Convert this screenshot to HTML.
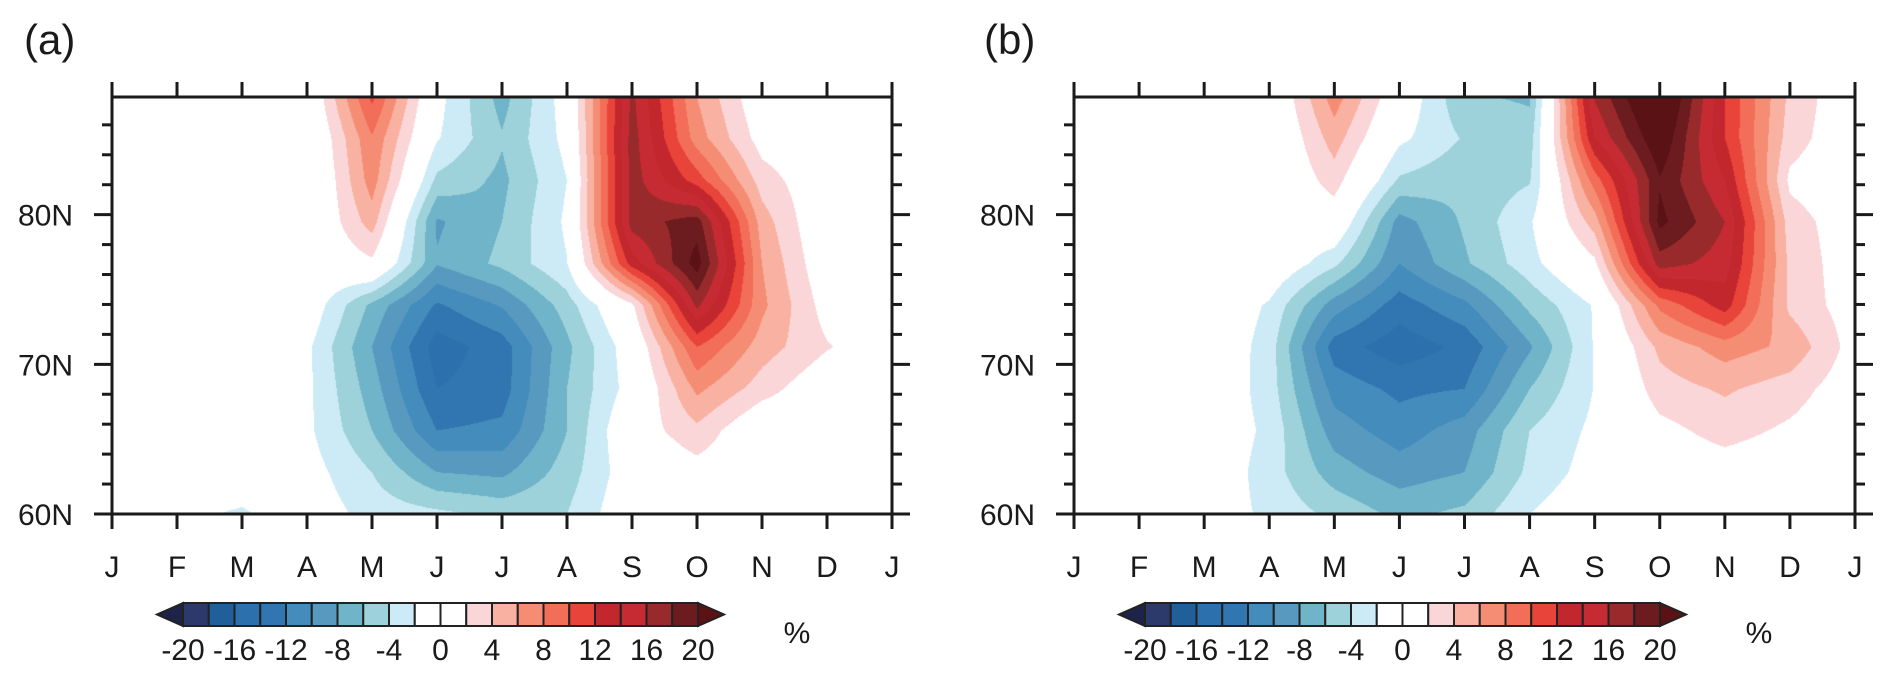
<!DOCTYPE html>
<html>
<head>
<meta charset="utf-8">
<style>
  html,body{margin:0;padding:0;background:#fff;}
  #wrap{position:relative;width:1892px;height:680px;overflow:hidden;background:#fff;}
  canvas{position:absolute;}
  svg{position:absolute;left:0;top:0;}
  text{font-family:"Liberation Sans",Arial,sans-serif;fill:#1a1a1a;}
</style>
</head>
<body>
<div id="wrap">
  <canvas id="cvA"></canvas>
  <canvas id="cvB"></canvas>
  <svg id="ov" width="1892" height="680"></svg>
</div>
<script>
// ---------- data ----------
const monthLabels = ['J','F','M','A','M','J','J','A','S','O','N','D','J'];
const lats = [60, 62.79, 65.58, 68.37, 71.16, 73.95, 76.74, 79.53, 82.31, 85.10, 87.86];
const latTickValues = [60, 70, 80];
const latTickLabels = ['60N', '70N', '80N'];
const levels = [-20,-18,-16,-14,-12,-10,-8,-6,-4,-2,0,2,4,6,8,10,12,14,16,18,20];
const levelLabels = ['-20','-16','-12','-8','-4','0','4','8','12','16','20'];
const bandColors = ['#1e2349','#2b3a6b','#215f9a','#2c70ad','#3176b0','#448cbb','#5899c0','#6fb4c8','#9dd2db','#cdebf6',
  '#ffffff','#ffffff','#fbd6d8','#f9b1a2','#f58d74','#f26e59','#e8443a','#c3272e','#c62a32','#992a2c','#6c1c1f','#5a1214'];
// rows: one per latitude (60 -> 87.86), columns: month ticks J..J
const gridA = [
  [0,-1.5,-2.3,-0.5,-2.8,-3.5,-4.5,-4,0,0,0,0,0],
  [0,0,-0.5,-1,-4,-8,-8.5,-5,-0.5,1,0,0,0],
  [0,0,0,-1.5,-6,-12,-11.5,-6,0.5,3.5,-0.5,0,0],
  [0,0,0,-1.5,-7,-14,-13,-6,-1,6.5,3,0,0],
  [0,0,0,-1.5,-8,-15,-13,-6.5,-0.5,10,5,2.2,0],
  [0,0,0,-0.2,-6.5,-12.3,-9.8,-5,1.5,16.5,6.5,1,0],
  [0,0,0,-0.5,1.5,-7.8,-5.5,-2.1,13,21,6,0,0],
  [0,0,0,-1.2,5,-8.3,-6,-1.6,17,19,5,-0.5,0],
  [0,0,0,-1.9,7,-4.5,-6.5,-2,17,11,3,0,0],
  [0,0,0,-1.5,7.8,-1.8,-5.8,-1.3,17,7,1,0,0],
  [0,0,0,-0.8,10.5,-1.2,-6.8,-0.8,16.5,6,0,0,0]
];
const gridB = [
  [0,0,-0.5,-2.5,-4.5,-6.5,-5.5,-2,0,0,0,0,0],
  [0,0,0,-3,-7,-9,-8,-3.5,-1,0.5,0.8,0.3,0],
  [0,0,0,-2.5,-9,-11,-9,-4,-1.5,1.3,2.8,1.6,0],
  [0,0,0.3,-3,-10.8,-12.5,-12,-6,-1.9,3.1,4.3,3.0,0.5],
  [0,0,0.5,-3,-13,-15.2,-13.5,-8.3,-1.8,4.5,7,5.5,1],
  [0,0,0.5,-2.3,-9,-13,-10.5,-5.5,-1.8,8.5,13,3.5,0.8],
  [0,0,0,0.3,-3.5,-10,-6.3,-2.8,1.5,17,15,3.5,0.5],
  [0,0,0,0,0.5,-8.8,-5.7,-2.3,5,20.6,16,3,0.5],
  [0,0,0,-1,3,-4.3,-5.5,-4.2,9,19.8,14,1.5,0],
  [0,0,0,-1.2,5,-1.5,-4.2,-5,14,22,12,3,0],
  [0,0,0,-0.9,7,0,-5.7,-6.3,16.2,24,12,3.5,0]
];

// ---------- layout ----------
const panels = [
  {id:'a', cv:'cvA', grid:gridA, x0:112, x1:892, y0:97, y1:514, label:'(a)', lx:24, cbx:183},
  {id:'b', cv:'cvB', grid:gridB, x0:1074, x1:1855, y0:97, y1:514, label:'(b)', lx:984, cbx:1145}
];
const LAT_MIN = 60, LAT_MAX = 87.86;
const NS = 'http://www.w3.org/2000/svg';
const ov = document.getElementById('ov');

function hexToRgb(h){return [parseInt(h.substr(1,2),16),parseInt(h.substr(3,2),16),parseInt(h.substr(5,2),16)];}
const bandRgb = bandColors.map(hexToRgb);
function bandIndex(v){
  if (v < levels[0]) return 0;
  for (let i = 1; i < levels.length; i++) if (v < levels[i]) return i;
  return levels.length;
}
function sample(grid, m, lat){
  let j = 0;
  while (j < lats.length - 2 && lat > lats[j+1]) j++;
  const ty = Math.max(0, Math.min(1, (lat - lats[j]) / (lats[j+1] - lats[j])));
  let i = Math.min(11, Math.max(0, Math.floor(m)));
  const tx = Math.max(0, Math.min(1, m - i));
  const a = grid[j][i], b = grid[j][i+1], c = grid[j+1][i], d = grid[j+1][i+1];
  return a*(1-tx)*(1-ty) + b*tx*(1-ty) + c*(1-tx)*ty + d*tx*ty;
}
function mk(tag, attrs, parent){
  const e = document.createElementNS(NS, tag);
  for (const k in attrs) e.setAttribute(k, attrs[k]);
  (parent || ov).appendChild(e);
  return e;
}

panels.forEach(p => {
  const xS = m => p.x0 + m * (p.x1 - p.x0) / 12;
  const yS = lat => p.y1 - (lat - LAT_MIN) * (p.y1 - p.y0) / (LAT_MAX - LAT_MIN);
  // contour fill via canvas
  const cv = document.getElementById(p.cv);
  const w = p.x1 - p.x0, h = p.y1 - p.y0;
  cv.width = w; cv.height = h;
  cv.style.left = p.x0 + 'px'; cv.style.top = p.y0 + 'px';
  const ctx = cv.getContext('2d');
  const img = ctx.createImageData(w, h);
  for (let py = 0; py < h; py++) {
    const lat = LAT_MAX - (py + 0.5) / h * (LAT_MAX - LAT_MIN);
    for (let px = 0; px < w; px++) {
      const m = (px + 0.5) / w * 12;
      const rgb = bandRgb[bandIndex(sample(p.grid, m, lat))];
      const o = (py * w + px) * 4;
      img.data[o] = rgb[0]; img.data[o+1] = rgb[1]; img.data[o+2] = rgb[2]; img.data[o+3] = 255;
    }
  }
  ctx.putImageData(img, 0, 0);

  const g = mk('g', {});
  
  
  // frame
  const fr = mk('rect', {x:p.x0, y:p.y0, width:p.x1-p.x0, height:p.y1-p.y0, fill:'none', stroke:'#1a1a1a', 'stroke-width':3}, g);
  
  
  // month ticks & labels
  monthLabels.forEach((lab, k) => {
    const x = xS(k);
    const t1 = mk('line', {x1:x, x2:x, y1:p.y0, y2:p.y0-15, stroke:'#1a1a1a', 'stroke-width':3}, g);
    
    
    const t2 = mk('line', {x1:x, x2:x, y1:p.y1, y2:p.y1+15, stroke:'#1a1a1a', 'stroke-width':3}, g);
    
    
    const tx = mk('text', {x:x, y:577, 'text-anchor':'middle', 'font-size':30}, g);
    tx.textContent = lab;
    
    
  });
  // latitude ticks
  for (let lat = 60; lat <= 86; lat += 2) {
    const y = yS(lat);
    const major = latTickValues.indexOf(lat) >= 0;
    const len = major ? 18 : 10;
    const l1 = mk('line', {x1:p.x0, x2:p.x0-len, y1:y, y2:y, stroke:'#1a1a1a', 'stroke-width':3}, g);
    
    
    const l2 = mk('line', {x1:p.x1, x2:p.x1+len, y1:y, y2:y, stroke:'#1a1a1a', 'stroke-width':3}, g);
    
    
  }
  latTickValues.forEach((lat, k) => {
    const t = mk('text', {x:p.x0-39, y:yS(lat)+11, 'text-anchor':'end', 'font-size':30}, g);
    t.textContent = latTickLabels[k];
    
    
  });
  // panel label
  const pl = mk('text', {x:p.lx, y:54, 'font-size':42}, g);
  pl.textContent = p.label;
  
  

  // colorbar
  const cb = mk('g', {}, g);
  
  
  const bw = 25.75, by0 = 603, by1 = 626, bmid = (by0 + by1) / 2;
  const nBox = levels.length - 1;
  const xEnd = p.cbx + nBox * bw;
  const lt = mk('polygon', {points:`${p.cbx},${by0} ${p.cbx-26},${bmid} ${p.cbx},${by1}`, fill:bandColors[0], stroke:'#222', 'stroke-width':2}, cb);
  
  
  const rt = mk('polygon', {points:`${xEnd},${by0} ${xEnd+26},${bmid} ${xEnd},${by1}`, fill:bandColors[bandColors.length-1], stroke:'#222', 'stroke-width':2}, cb);
  
  
  for (let i = 0; i < nBox; i++) {
    const r = mk('rect', {x:p.cbx + i*bw, y:by0, width:bw, height:by1-by0, fill:bandColors[i+1], stroke:'#222', 'stroke-width':2}, cb);
    
    
  }
  levelLabels.forEach((lab) => {
    const idx = levels.indexOf(parseFloat(lab));
    const t = mk('text', {x:p.cbx + idx*bw, y:660, 'text-anchor':'middle', 'font-size':30}, cb);
    t.textContent = lab;
    
    
  });
  const pc = mk('text', {x:p.cbx + 614, y:643, 'text-anchor':'middle', 'font-size':30}, cb);
  pc.textContent = '%';
  
  
});
</script>
</body>
</html>
